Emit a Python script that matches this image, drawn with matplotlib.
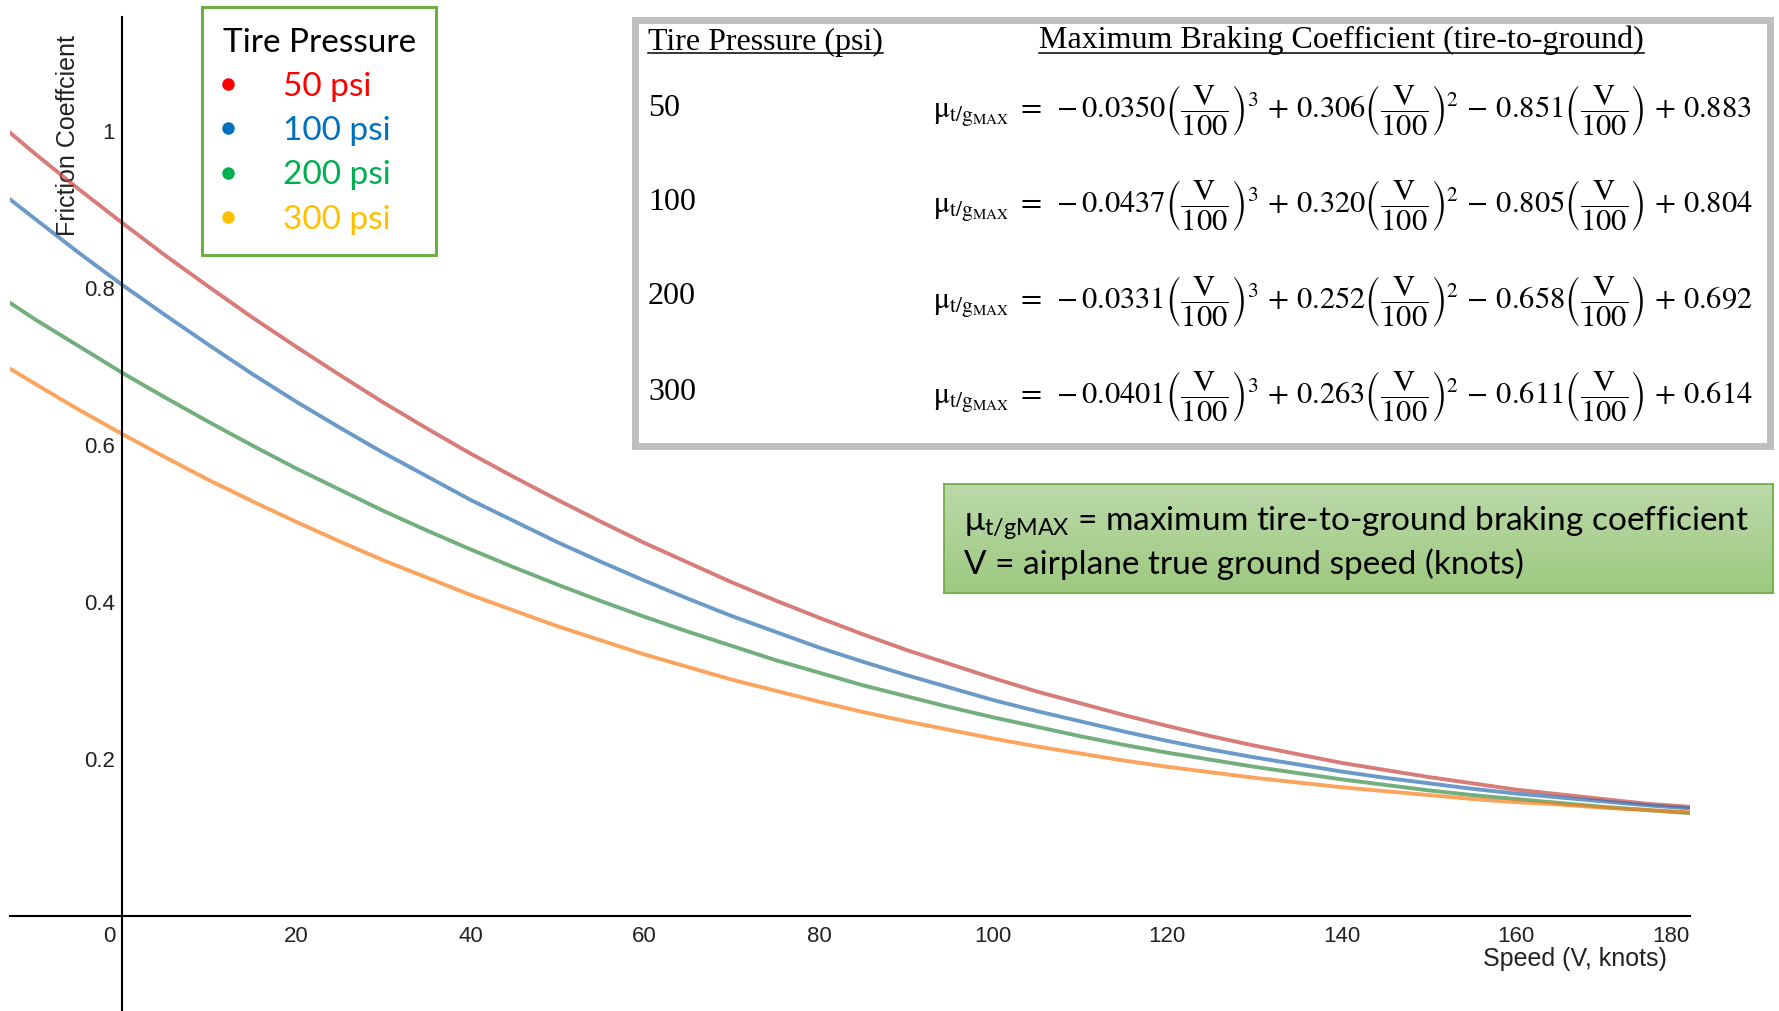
import numpy as np
import matplotlib
matplotlib.use('Agg')
import matplotlib.pyplot as plt
from matplotlib.lines import Line2D
from matplotlib.transforms import ScaledTranslation

# ---------------- data ----------------
speed = [-13, -10, -5, 0, 5, 10, 15, 20, 25, 30, 35, 40, 45, 50, 55, 60, 65, 70, 75, 80, 85, 90, 95,
         100, 105, 110, 115, 120, 125, 130, 135, 140, 145, 150, 155, 160, 165, 170, 175, 180]
mu_50 = [0.999, 0.971, 0.926, 0.883, 0.841, 0.801, 0.762, 0.725, 0.689, 0.654, 0.621, 0.589, 0.559,
         0.530, 0.502, 0.475, 0.450, 0.425, 0.402, 0.380, 0.359, 0.339, 0.321, 0.303, 0.286, 0.271,
         0.256, 0.242, 0.229, 0.217, 0.206, 0.195, 0.186, 0.177, 0.169, 0.161, 0.155, 0.149, 0.143, 0.139]
mu_100 = [0.914, 0.888, 0.845, 0.804, 0.765, 0.727, 0.690, 0.655, 0.622, 0.590, 0.560, 0.530, 0.503,
          0.476, 0.451, 0.427, 0.404, 0.382, 0.362, 0.342, 0.324, 0.307, 0.291, 0.275, 0.261, 0.248,
          0.235, 0.223, 0.212, 0.202, 0.193, 0.184, 0.176, 0.169, 0.162, 0.156, 0.151, 0.146, 0.141, 0.137]
mu_200 = [0.782, 0.760, 0.726, 0.692, 0.660, 0.629, 0.599, 0.570, 0.543, 0.516, 0.491, 0.467, 0.444,
          0.422, 0.401, 0.381, 0.362, 0.344, 0.326, 0.310, 0.294, 0.280, 0.266, 0.253, 0.241, 0.229,
          0.218, 0.208, 0.199, 0.190, 0.182, 0.174, 0.167, 0.160, 0.154, 0.149, 0.144, 0.139, 0.135, 0.131]
mu_300 = [0.698, 0.678, 0.645, 0.614, 0.584, 0.555, 0.528, 0.502, 0.477, 0.453, 0.431, 0.409, 0.389,
          0.369, 0.351, 0.333, 0.317, 0.301, 0.287, 0.273, 0.260, 0.248, 0.237, 0.226, 0.216, 0.207,
          0.198, 0.190, 0.183, 0.176, 0.170, 0.164, 0.159, 0.154, 0.149, 0.145, 0.142, 0.138, 0.135, 0.132]

pressures = ['50', '100', '200', '300']
legend_labels = ['50 psi', '100 psi', '200 psi', '300 psi']
coef_v3 = [-0.0350, -0.0437, -0.0331, -0.0401]
coef_v2 = [0.306, 0.320, 0.252, 0.263]
coef_v1 = [-0.851, -0.805, -0.658, -0.611]
coef_v0 = [0.883, 0.804, 0.692, 0.614]

x_ticks = [0, 20, 40, 60, 80, 100, 120, 140, 160, 180]
x_tick_labels = ['0', '20', '40', '60', '80', '100', '120', '140', '160', '180']
y_ticks = [0.2, 0.4, 0.6, 0.8, 1.0]
y_tick_labels = ['0.2', '0.4', '0.6', '0.8', '1']

# ---------------- styles ----------------
line_colors = ['#c74440', '#2d70b3', '#388c46', '#fa7e19']
legend_colors = ['#ff0000', '#0070c0', '#00b050', '#ffc000']

W, H, DPI = 1779, 1011, 100
fig = plt.figure(figsize=(W / DPI, H / DPI), dpi=DPI)
fig.patch.set_facecolor('white')


def fx(px):
    return px / W


def fy(py):
    return 1 - py / H


# ---------------- main axes ----------------
ax_left, ax_right, ax_top = 10, 1690, 17
ax = fig.add_axes([fx(ax_left), 0, fx(ax_right) - fx(ax_left), fy(ax_top)])
ax.set_xlim(-12.86, 180)
ax.set_ylim(-0.121, 1.145)

for series, col in zip([mu_50, mu_100, mu_200, mu_300], line_colors):
    ax.plot(speed, series, color=col, lw=2.8, alpha=0.7)

for side in ['top', 'right']:
    ax.spines[side].set_visible(False)
ax.spines['left'].set_position(('data', 0))
ax.spines['bottom'].set_position(('data', 0))
for side in ['left', 'bottom']:
    ax.spines[side].set_linewidth(1.5)
    ax.spines[side].set_color('black')

ax.set_xticks(x_ticks, labels=x_tick_labels)
ax.set_yticks(y_ticks, labels=y_tick_labels)
ax.tick_params(axis='both', length=0, labelsize=16, labelcolor='#222222')
ax.tick_params(axis='x', pad=7)
ax.tick_params(axis='y', pad=5)
for lab in ax.get_xticklabels() + ax.get_yticklabels():
    lab.set_family('Liberation Sans')

xt = ax.get_xticklabels()
xt[0].set_transform(xt[0].get_transform() + ScaledTranslation(-13 / DPI, 0, fig.dpi_scale_trans))
xt[-1].set_horizontalalignment('right')

ax.set_ylabel('Friction Coeffcient', fontsize=18, family='Liberation Sans', color='#222222')
ax.yaxis.set_label_coords(70 / (ax_right - ax_left), (H - 136) / (H - ax_top))
ax.set_xlabel('Speed (V, knots)', fontsize=18, family='Liberation Sans', color='#222222')
ax.xaxis.set_label_coords((1575 - ax_left) / (ax_right - ax_left), (H - 947) / (H - ax_top))

# ---------------- legend ----------------
handles = [Line2D([], [], ls='', marker='o', ms=9, markeredgewidth=0, color=c) for c in legend_colors]
leg = ax.legend(handles, legend_labels, title='Tire Pressure', loc='upper left',
                bbox_to_anchor=(fx(202), fy(7)), bbox_transform=fig.transFigure,
                prop={'family': 'Lato', 'size': 24},
                title_fontproperties={'family': 'Lato', 'size': 24},
                labelcolor=legend_colors, frameon=True, fancybox=False,
                edgecolor='#70ad47', framealpha=1, borderpad=0.62, labelspacing=0.43,
                handlelength=0.3, handletextpad=1.5, borderaxespad=0, alignment='left')
leg.get_frame().set_linewidth(2.2)
leg._legend_box.sep = 10

# ---------------- equation table ----------------
tax = fig.add_axes([fx(635), fy(446), fx(1770) - fx(635), fy(20) - fy(446)])
tax.set_xticks([])
tax.set_yticks([])
tax.set_facecolor('white')
for s in tax.spines.values():
    s.set_color('#bfbfbf')
    s.set_linewidth(5)

serif = 'Liberation Serif'
h1 = fig.text(fx(648), fy(42), 'Tire Pressure (psi)', family=serif, size=23, va='center', ha='left')
h2 = fig.text(fx(1039), fy(40), 'Maximum Braking Coefficient (tire-to-ground)', family=serif, size=23,
              va='center', ha='left')

row_y = [108, 202, 297, 393]
eq_y = [110, 205, 301, 396]


def sgn(v, nd):
    s = f'{abs(v):.{nd}f}'
    return (r'\,-\,' if v < 0 else r'\,+\,') + s


frac = r'\left(\dfrac{\mathrm{V}}{100}\right)'
for i in range(4):
    eq = (r'$\mathrm{\mu}_{\mathrm{t/g_{MAX}}}\;=\;' + sgn(coef_v3[i], 4).replace(r'\,-\,', '-') + frac + '^{3}'
          + sgn(coef_v2[i], 3) + frac + '^{2}'
          + sgn(coef_v1[i], 3) + frac
          + sgn(coef_v0[i], 3) + '$')
    fig.text(fx(648), fy(row_y[i]), pressures[i], family=serif, size=23, va='center', ha='left')
    fig.text(fx(933), fy(eq_y[i]), eq, size=22, va='center', ha='left', math_fontfamily='stix')

# ---------------- definition box ----------------
gax = fig.add_axes([fx(944), fy(593), fx(1773) - fx(944), fy(484) - fy(593)])
top_c = np.array([187, 217, 170]) / 255
bot_c = np.array([158, 201, 128]) / 255
t = np.linspace(0, 1, 64)[:, None, None]
grad = top_c[None, None, :] * (1 - t) + bot_c[None, None, :] * t
gax.imshow(grad, aspect='auto', extent=[0, 1, 0, 1], origin='upper')
gax.set_xlim(0, 1)
gax.set_ylim(0, 1)
gax.set_xticks([])
gax.set_yticks([])
for s in gax.spines.values():
    s.set_color('#70ad47')
    s.set_linewidth(1.3)

fig.text(fx(964), fy(523), r'$\mathregular{\mu_{t/gMAX}}$ = maximum tire-to-ground braking coefficient',
         family='Lato', size=24, va='center', ha='left', color='black')
fig.text(fx(964), fy(564), 'V = airplane true ground speed (knots)',
         family='Lato', size=24, va='center', ha='left', color='black')

# underlines for the table headers
fig.canvas.draw()
for htxt in (h1, h2):
    bb = htxt.get_window_extent()
    yline = 1 - 53 / H
    fig.add_artist(Line2D([bb.x0 / W, bb.x1 / W], [yline, yline], transform=fig.transFigure,
                          color='black', lw=1.1))

fig.savefig('out.png', dpi=DPI)
